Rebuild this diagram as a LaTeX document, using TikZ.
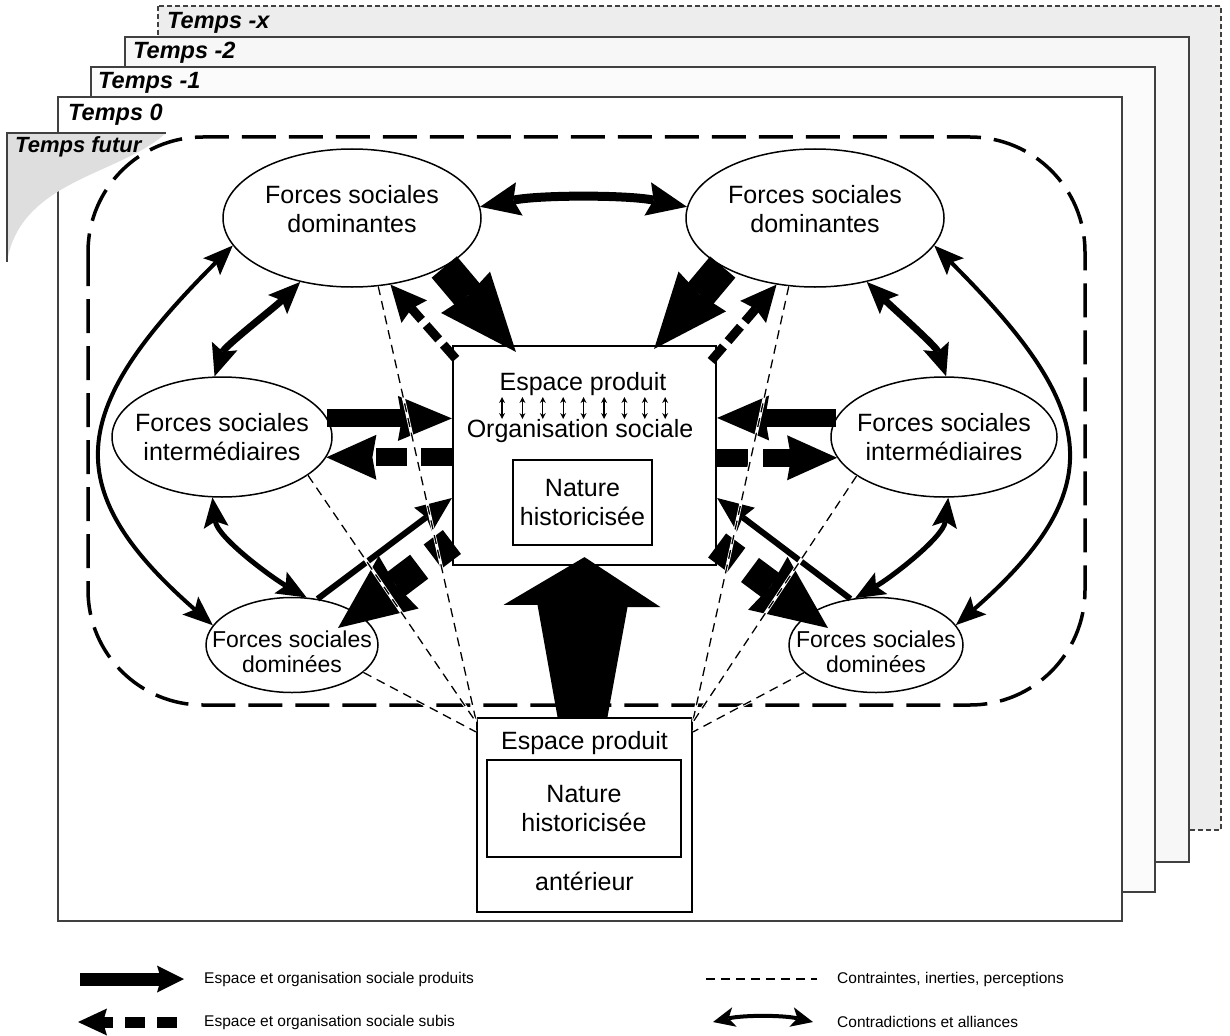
\documentclass[tikz,border=0pt]{standalone}
\usepackage{fontspec}
\setmainfont{Liberation Sans}
\usetikzlibrary{shapes.geometric,arrows.meta}

\begin{document}
\begin{tikzpicture}[x=1pt,y=-1pt,
    forces/.style={draw,ellipse,line width=1.5pt,fill=white,inner sep=0pt},
    texte/.style={align=center,inner sep=0pt,font=\fontsize{25}{29}\selectfont},
    petit/.style={align=center,inner sep=0pt,font=\fontsize{23}{25}\selectfont},
    cadre/.style={draw,rectangle,line width=2.2pt,fill=white,inner sep=0pt},
    temps/.style={anchor=base west,inner sep=0pt,font=\fontsize{23.5}{26}\selectfont\bfseries\itshape},
    legende/.style={anchor=west,inner sep=0pt,font=\fontsize{15.5}{18}\selectfont},
    feuille/.style={draw=black!75,line width=1.2pt},
    produit/.style n args={3}{line width=#1,-{Stealth[length=#2,width=#3,inset=4pt,line width=0pt]}},
    subis/.style n args={4}{line width=#1,dash pattern=#4,-{Stealth[length=#2,width=#3,inset=4pt,line width=0pt]}},
    contra/.style n args={3}{line width=#1,{Stealth[length=#2,width=#3,inset=6pt,line width=0pt]}-{Stealth[length=#2,width=#3,inset=6pt,line width=0pt]}},
    contrainte/.style={line width=1.3pt,dash pattern=on 9pt off 6pt,preaction={draw=white,line width=3pt}}]
  \useasboundingbox (0,0) rectangle (1230,1035);

  % les feuilles du temps
  \filldraw[feuille,fill=black!7,dash pattern=on 5pt off 3pt] (158,6) rectangle (1221,830);
  \filldraw[feuille,fill=black!3] (125,37) rectangle (1189,862);
  \filldraw[feuille,fill=black!1.5] (91,67) rectangle (1155,892);
  \filldraw[feuille,fill=white] (58,97) rectangle (1122,921);
  \fill[black!13] (7,133) -- (166,133) .. controls (120,175) and (20,180) .. (7,262) -- cycle;
  \draw[feuille] (7,262) -- (7,133) -- (166,133);
  \node[temps] (tx) at (167,29) {Temps -x};
  \node[temps] (t2) at (133,59) {Temps -2};
  \node[temps] (t1) at (98,89) {Temps -1};
  \node[temps] (t0) at (68,121) {Temps 0};
  \node[temps,font=\fontsize{22}{26}\selectfont\bfseries\itshape] (tf) at (15,153) {Temps futur};

  \draw[line width=3.5pt,dash pattern=on 34pt off 13pt,rounded corners=115pt] (88,137) rectangle (1085,705);

  % forces sociales
  \node[forces,minimum width=258pt,minimum height=138pt] (domL) at (352,218) {};
  \node[texte] (tdomL) at ([yshift=8.5pt]domL.center) {Forces sociales\\dominantes};
  \node[forces,minimum width=258pt,minimum height=138pt] (domR) at (815,218) {};
  \node[texte] (tdomR) at ([yshift=8.5pt]domR.center) {Forces sociales\\dominantes};
  \node[forces,minimum width=220pt,minimum height=120pt] (intL) at (222,437) {};
  \node[texte] (tintL) at (intL.center) {Forces sociales\\intermédiaires};
  \node[forces,minimum width=226pt,minimum height=120pt] (intR) at (944,437) {};
  \node[texte] (tintR) at (intR.center) {Forces sociales\\intermédiaires};
  \node[forces,minimum width=172pt,minimum height=95pt] (domiL) at (292,645) {};
  \node[petit] (tdomiL) at ([yshift=-7pt]domiL.center) {Forces sociales\\dominées};
  \node[forces,minimum width=174pt,minimum height=95pt] (domiR) at (876,645) {};
  \node[petit] (tdomiR) at ([yshift=-7pt]domiR.center) {Forces sociales\\dominées};

  % espace produit
  \node[cadre,minimum width=263pt,minimum height=219pt] (espace) at (584.5,455.5) {};
  \node[texte,anchor=base] (ep) at (583,390) {Espace produit};
  \node[texte,anchor=base] (os) at (580,437) {Organisation sociale};
  \foreach \i in {0,...,8}
    \draw[line width=1.3pt,{Stealth[length=6pt,width=6pt,line width=0pt]}-{Stealth[length=6pt,width=6pt,line width=0pt]}] (502+\i*20.4,397) -- (502+\i*20.4,419);
  \node[cadre,texte,minimum width=139pt,minimum height=85pt] (nature) at (582.5,502.5) {Nature\\historicisée};

  \node[cadre,minimum width=215pt,minimum height=194pt] (ant) at (584.5,815) {};
  \node[texte,anchor=base] (aep) at (584.5,749) {Espace produit};
  \node[cadre,texte,minimum width=194pt,minimum height=97pt] (anat) at (584,808.5) {Nature\\historicisée};
  \node[texte,anchor=base] (aant) at (584.5,890) {antérieur};

  \fill ([xshift=-27pt]ant.north) -- ++(-20,-112) -- ++(-34,0) -- ([yshift=9pt]espace.south)
    -- ++(76,50) -- ++(-33,0) -- ([xshift=23pt]ant.north) -- cycle;

  % espace produit / subi
  \draw[produit={33pt}{78pt}{64pt}] (domL.-28) -- ([shift={(64pt,-7pt)}]espace.north west);
  \draw[produit={33pt}{75pt}{62pt}] (domR.-152) -- ([shift={(-63pt,-4pt)}]espace.north east);
  \draw[produit={18pt}{54pt}{45pt}] (intL.10) -- (intL.10 -| espace.west);
  \draw[produit={18pt}{52pt}{45pt}] (intR.170) -- (intR.170 -| espace.east);
  \draw[produit={6pt}{36pt}{30pt}] (domiL.61) -- ([yshift=-42.5pt]espace.west);
  \draw[produit={6pt}{36pt}{30pt}] (domiR.119) -- ([yshift=-42.5pt]espace.east);

  \draw[subis={9pt}{36pt}{34pt}{on 19pt off 7pt}] ([shift={(4pt,-14pt)}]espace.north west) -- (domL.-60);
  \draw[subis={9pt}{36pt}{34pt}{on 19pt off 7pt}] ([shift={(-6pt,-16pt)}]espace.north east) -- (domR.-120);
  \draw[subis={18pt}{50pt}{45pt}{on 31pt off 14pt}] (espace.west |- intL.-11) -- (intL.-11);
  \draw[subis={18pt}{50pt}{45pt}{on 31pt off 15pt}] (espace.east |- intR.191) -- (intR.191);
  \draw[subis={30pt}{76pt}{66pt}{on 24pt off 17pt on 60pt off 1pt}] ([yshift=-86.5pt]espace.west) -- ([shift={(46pt,17pt)}]domiL.center);
  \draw[subis={30pt}{75pt}{66pt}{on 24pt off 17pt on 60pt off 1pt}] ([yshift=-90pt]espace.east) -- ([shift={(-48pt,17pt)}]domiR.center);

  % contradictions et alliances
  \draw[contra={9pt}{40pt}{34pt}] (domL.5) .. controls +(60,-12) and +(-60,-12) .. (domR.175);
  \draw[contra={7pt}{32pt}{27pt}] (domL.-129) .. controls +(-25,25) and +(10,-30) .. (intL.97);
  \draw[contra={5pt}{30pt}{25pt}] (intL.-99) .. controls +(5,40) and +(-35,-20) .. (domiL.73);
  \draw[contra={4pt}{30pt}{24pt}] (domL.193) .. controls +(-160,160) and +(-160,-140) .. (domiL.166);
  \draw[contra={7pt}{32pt}{27pt}] (domR.-51) .. controls +(25,25) and +(-10,-30) .. (intR.88);
  \draw[contra={5pt}{30pt}{25pt}] (intR.-86) .. controls +(-5,40) and +(35,-20) .. (domiR.114);
  \draw[contra={4pt}{30pt}{24pt}] (domR.-13) .. controls +(160,160) and +(160,-140) .. (domiR.14);

  % contraintes
  \draw[contrainte] (domL.-69) -- ([yshift=-3pt]ant.north west);
  \draw[contrainte] (intL.-24) -- ([yshift=-5pt]ant.north west);
  \draw[contrainte] (domiL.-21) -- ([yshift=-15pt]ant.north west);
  \draw[contrainte] (domR.-111) -- ([yshift=-3pt]ant.north east);
  \draw[contrainte] (intR.-156) -- ([yshift=-5pt]ant.north east);
  \draw[contrainte] (domiR.-159) -- ([yshift=-15pt]ant.north east);

  % legende
  \node[legende] (lg1) at (204,979) {Espace et organisation sociale produits};
  \node[legende] (lg2) at (204,1022) {Espace et organisation sociale subis};
  \node[legende] (lg3) at (837,979) {Contraintes, inerties, perceptions};
  \node[legende] (lg4) at (837,1022) {Contradictions et alliances};
  \draw[produit={13pt}{27pt}{27pt}] ([xshift=-124pt]lg1.west) -- ([xshift=-20pt]lg1.west);
  \draw[subis={11pt}{29pt}{27pt}{on 20pt off 12pt}] ([xshift=-27pt]lg2.west) -- ([xshift=-126pt]lg2.west);
  \draw[contrainte] ([xshift=-131pt]lg3.west) -- ([xshift=-20pt]lg3.west);
  \draw[contra={4pt}{22pt}{20pt}] ([xshift=-124pt]lg4.west) .. controls +(30,-7) and +(-30,-7) .. ([xshift=-24pt]lg4.west);
\end{tikzpicture}
\end{document}
